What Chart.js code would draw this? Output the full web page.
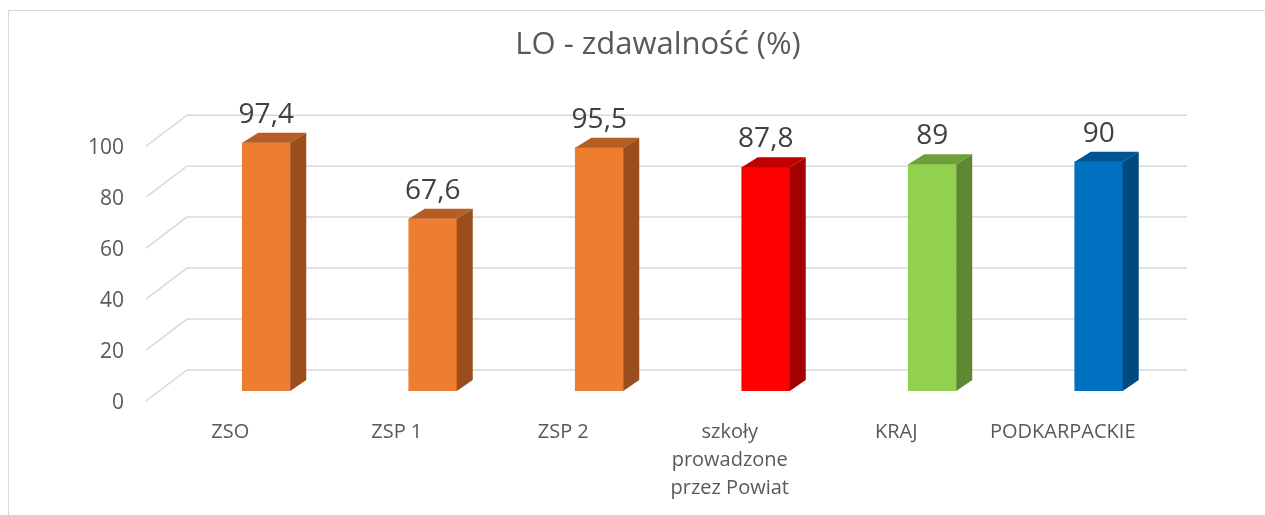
<!DOCTYPE html>
<html>
<head>
<meta charset="utf-8">
<script src="https://cdn.jsdelivr.net/npm/chart.js@4"></script>
<style>
  body { margin: 0; overflow: hidden; background: #fff; }
  #frame { position: absolute; left: 8px; top: 10px; width: 1400px; height: 700px; border: 1px solid #d9d9d9; }
  #c { position: absolute; left: 0; top: 0; }
</style>
</head>
<body>
<div id="frame"></div>
<canvas id="c" width="1265" height="515"></canvas>
<script>
const categories = ["ZSO", "ZSP 1", "ZSP 2", ["szkoły", "prowadzone", "przez Powiat"], "KRAJ", "PODKARPACKIE"];
const values = [97.4, 67.6, 95.5, 87.8, 89, 90];
const yTicks = [0, 20, 40, 60, 80, 100];

// face colours: front / top / side
const frontColors = ["#ED7D31", "#ED7D31", "#ED7D31", "#FF0000", "#92D050", "#0070C0"];
const topColors = ["#B55D23", "#B55D23", "#B55D23", "#C00000", "#6F9E3D", "#005593"];
const sideColors = ["#9A4E1D", "#9A4E1D", "#9A4E1D", "#A30000", "#5F8834", "#004A7F"];

const DEPTH_X = 16, DEPTH_Y = 10;

// perspective gridlines (floor + back wall)
const gridPlugin = {
  id: "grid3d",
  beforeDatasetsDraw(chart) {
    const { ctx, chartArea } = chart;
    const y = chart.scales.y;
    ctx.save();
    ctx.strokeStyle = "#d9d9d9";
    ctx.lineWidth = 1.5;
    yTicks.forEach(v => {
      const py = y.getPixelForValue(v);
      ctx.beginPath();
      ctx.moveTo(chartArea.left - 37, py + 10);
      ctx.lineTo(chartArea.left + 4, py - 21);
      ctx.lineTo(chartArea.right + 5, py - 21);
      ctx.stroke();
    });
    ctx.restore();
  }
};

// side/top faces of the columns and value labels
const barPlugin = {
  id: "bars3d",
  afterDatasetsDraw(chart) {
    const { ctx } = chart;
    const meta = chart.getDatasetMeta(0);
    ctx.save();
    meta.data.forEach((bar, i) => {
      const p = bar.getProps(["x", "y", "base", "width"], true);
      const l = p.x - p.width / 2, r = p.x + p.width / 2;
      // top
      ctx.fillStyle = topColors[i];
      ctx.beginPath();
      ctx.moveTo(l, p.y);
      ctx.lineTo(l + DEPTH_X, p.y - DEPTH_Y);
      ctx.lineTo(r + DEPTH_X, p.y - DEPTH_Y);
      ctx.lineTo(r, p.y);
      ctx.closePath();
      ctx.fill();
      // side
      ctx.fillStyle = sideColors[i];
      ctx.beginPath();
      ctx.moveTo(r, p.y);
      ctx.lineTo(r + DEPTH_X, p.y - DEPTH_Y);
      ctx.lineTo(r + DEPTH_X, p.base - DEPTH_Y - 1);
      ctx.lineTo(r, p.base);
      ctx.closePath();
      ctx.fill();
      // value
      ctx.fillStyle = "#404040";
      ctx.font = "28px 'Open Sans'";
      ctx.textAlign = "center";
      ctx.textBaseline = "alphabetic";
      ctx.fillText(String(values[i]).replace(".", ","), p.x, p.y - 20);
    });
    ctx.restore();
  }
};

new Chart(document.getElementById("c").getContext("2d"), {
  type: "bar",
  data: {
    labels: categories,
    datasets: [{
      data: values,
      backgroundColor: frontColors,
      borderWidth: 0,
      barThickness: 48
    }]
  },
  options: {
    responsive: false,
    animation: false,
    layout: { padding: { left: 60, right: 9, top: 0, bottom: 0 } },
    plugins: {
      legend: { display: false },
      tooltip: { enabled: false },
      title: {
        display: true,
        text: "LO - zdawalność (%)",
        color: "#595959",
        font: { family: "'Open Sans'", size: 31, weight: "normal", lineHeight: 1.2 },
        padding: { top: 27, bottom: 72 }
      }
    },
    scales: {
      x: {
        grid: { display: false },
        border: { display: false },
        ticks: {
          color: "#595959",
          font: { family: "'Open Sans'", size: 20, lineHeight: 1.4 },
          labelOffset: -36,
          padding: 19,
          autoSkip: false,
          maxRotation: 0
        },
        afterFit: s => { s.height = 124; }
      },
      y: {
        min: 0,
        max: 100,
        grid: { display: false },
        border: { display: false },
        afterBuildTicks: s => { s.ticks = yTicks.map(v => ({ value: v })); },
        ticks: {
          color: "#595959",
          font: { family: "'Open Sans'", size: 21 },
          labelOffset: 12,
          padding: 51
        },
        afterFit: s => { s.width = 123; }
      },
      // empty right-hand axis, only reserves the space right of the plot
      yRight: {
        position: "right",
        grid: { display: false },
        border: { display: false },
        ticks: { display: false },
        afterFit: s => { s.width = 74; }
      }
    }
  },
  plugins: [gridPlugin, barPlugin]
});
</script>
</body>
</html>
